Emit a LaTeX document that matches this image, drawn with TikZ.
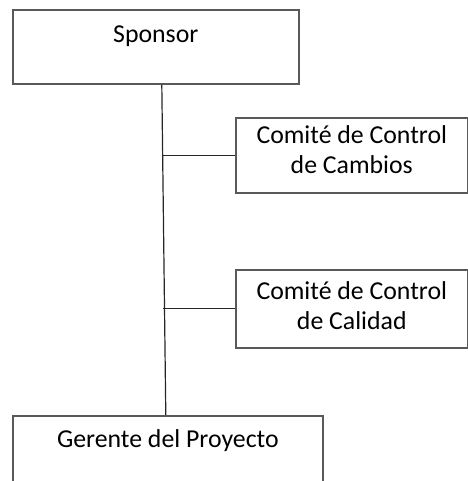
\documentclass[tikz,border=0pt]{standalone}
\usepackage{fontspec}
\setmainfont{Carlito}
\usetikzlibrary{positioning}

\begin{document}
\begin{tikzpicture}[x=1pt,y=-1pt,
  box/.style={draw=black!65,line width=1.6pt,inner sep=0pt,anchor=north west,
    align=center,font=\fontsize{25.8}{30}\selectfont},
  link/.style={draw=black!85,line width=1.2pt}]
  \useasboundingbox (0,0) rectangle (467,481);
  \node[box,minimum width=286pt,text height=33pt,text depth=41pt] (sponsor) at (12,9) {Sponsor};
  \node[box,minimum width=232pt,text height=56pt,text depth=19pt] (cambios) at (235,117) {Comité de Control\\de Cambios};
  \node[box,minimum width=232pt,text height=60pt,text depth=18pt] (calidad) at (235,269) {Comité de Control\\de Calidad};
  \node[box,minimum width=310pt,text height=32pt,text depth=44pt] (gerente) at (12,415) {Gerente del Proyecto};
  \draw[link] ([xshift=6pt]sponsor.south) -- ([xshift=-2pt]gerente.north);
  \draw[link] (cambios.west) -- ++(-73,0);
  \draw[link] (calidad.west) -- ++(-72,0);
\end{tikzpicture}
\end{document}
